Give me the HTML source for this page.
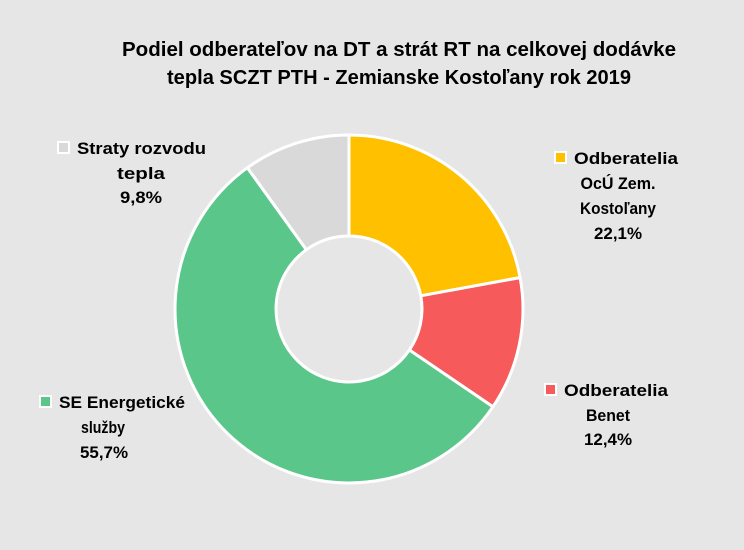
<!DOCTYPE html>
<html><head><style>
body{margin:0;background:#e6e6e6}
svg{display:block}
text{font-family:"Liberation Sans",sans-serif;font-weight:bold;fill:#000}
</style></head><body>
<svg width="744" height="550" viewBox="0 0 744 550">
<rect width="744" height="550" fill="#e6e6e6"/>
<text x="399" y="56" font-size="20" text-anchor="middle" textLength="554" lengthAdjust="spacingAndGlyphs">Podiel odberateľov na DT a strát RT na celkovej dodávke</text>
<text x="399" y="84" font-size="20" text-anchor="middle" textLength="464" lengthAdjust="spacingAndGlyphs">tepla SCZT PTH - Zemianske Kostoľany rok 2019</text>
<g stroke="#fff" stroke-width="3" stroke-linejoin="round">
<path d="M349,135 A174,174 0 0 1 520.1,277.6 L420.8,295.8 A73,73 0 0 0 349,236 Z" fill="#ffc000"/>
<path d="M520.1,277.6 A174,174 0 0 1 492.9,406.8 L409.4,350 A73,73 0 0 0 420.8,295.8 Z" fill="#f65a5a"/>
<path d="M492.9,406.8 A174,174 0 1 1 247.4,167.7 L306.4,249.7 A73,73 0 1 0 409.4,350 Z" fill="#5ac68a"/>
<path d="M247.4,167.7 A174,174 0 0 1 349,135 L349,236 A73,73 0 0 0 306.4,249.7 Z" fill="#d9d9d9"/>
</g>
<g font-size="17" lengthAdjust="spacingAndGlyphs">
<rect x="58" y="142" width="11" height="11" fill="#d9d9d9" stroke="#fff" stroke-width="2"/>
<text x="77" y="154" textLength="129" lengthAdjust="spacingAndGlyphs">Straty rozvodu</text>
<text x="141" y="179" text-anchor="middle" textLength="48" lengthAdjust="spacingAndGlyphs">tepla</text>
<text x="141" y="203" text-anchor="middle" textLength="42" lengthAdjust="spacingAndGlyphs">9,8%</text>

<rect x="555" y="152" width="11" height="11" fill="#ffc000" stroke="#fff" stroke-width="2"/>
<text x="574" y="164" textLength="104" lengthAdjust="spacingAndGlyphs">Odberatelia</text>
<text x="618" y="189" text-anchor="middle" textLength="75" lengthAdjust="spacingAndGlyphs">OcÚ Zem.</text>
<text x="618" y="214" text-anchor="middle" textLength="76" lengthAdjust="spacingAndGlyphs">Kostoľany</text>
<text x="618" y="239" text-anchor="middle" textLength="48" lengthAdjust="spacingAndGlyphs">22,1%</text>

<rect x="545" y="384" width="11" height="11" fill="#f65a5a" stroke="#fff" stroke-width="2"/>
<text x="564" y="396" textLength="104" lengthAdjust="spacingAndGlyphs">Odberatelia</text>
<text x="608" y="421" text-anchor="middle" textLength="44" lengthAdjust="spacingAndGlyphs">Benet</text>
<text x="608" y="445" text-anchor="middle" textLength="48" lengthAdjust="spacingAndGlyphs">12,4%</text>

<rect x="40" y="396" width="11" height="11" fill="#5ac68a" stroke="#fff" stroke-width="2"/>
<text x="59" y="408" textLength="126" lengthAdjust="spacingAndGlyphs">SE Energetické</text>
<text x="103" y="433" text-anchor="middle" textLength="44" lengthAdjust="spacingAndGlyphs">služby</text>
<text x="104" y="458" text-anchor="middle" textLength="48" lengthAdjust="spacingAndGlyphs">55,7%</text>
</g>
</svg>
</body></html>
